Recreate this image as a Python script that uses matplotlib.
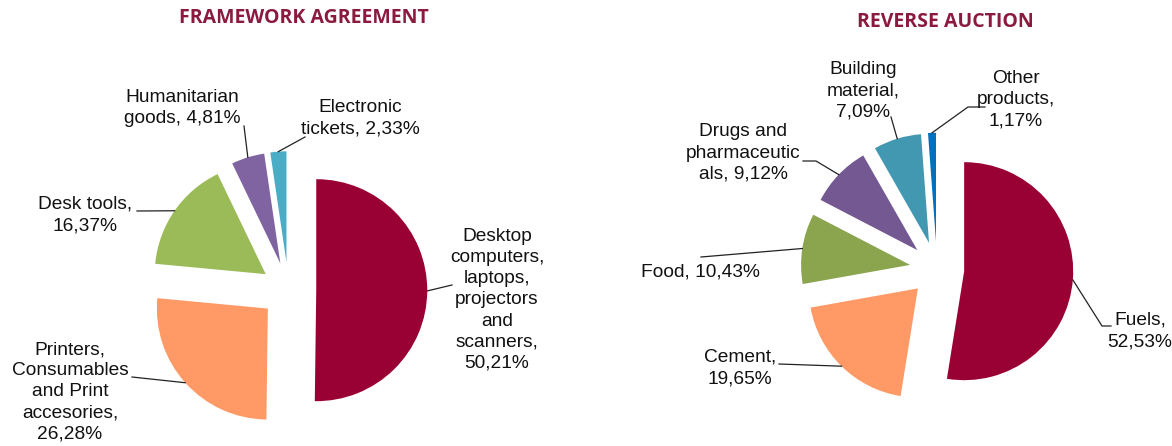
import numpy as np
import matplotlib
matplotlib.use("Agg")
import matplotlib.pyplot as plt

# --- data ---
fa_labels = ["Desktop\ncomputers,\nlaptops,\nprojectors\nand\nscanners,",
             "Printers,\nConsumables\nand Print\naccesories,",
             "Desk tools,", "Humanitarian\ngoods,", "Electronic\ntickets,"]
fa_values = [50.21, 26.28, 16.37, 4.81, 2.33]
fa_colors = ["#990033", "#FF9966", "#9BBB59", "#8064A2", "#4BACC6"]

ra_labels = ["Fuels,", "Cement,", "Food,", "Drugs and\npharmaceutic\nals,",
             "Building\nmaterial,", "Other\nproducts,"]
ra_values = [52.53, 19.65, 10.43, 9.12, 7.09, 1.17]
ra_colors = ["#990033", "#FF9966", "#8BA54F", "#735891", "#4298B0", "#0070C0"]

W, H = 1172, 446
fig = plt.figure(figsize=(W / 100, H / 100), dpi=100)
ax = fig.add_axes([0, 0, 1, 1])

def Y(y):  # pixel row -> data y
    return H - y

def fmt(v):
    return f"{v:.2f}".replace(".", ",") + "%"

def draw_pie(values, colors, center, radius, explode_frac):
    # explode in pie() is in data units, so scale it by the radius
    wedges, _ = ax.pie(values, colors=colors, startangle=90, counterclock=False,
                       center=(center[0], Y(center[1])), radius=radius,
                       explode=[explode_frac * radius] * len(values),
                       wedgeprops=dict(linewidth=0), frame=True)
    return wedges

def arc_point(w):
    a = np.deg2rad((w.theta1 + w.theta2) / 2)
    return w.center[0] + w.r * np.cos(a), w.center[1] + w.r * np.sin(a)

lab_font = dict(family=["Liberation Sans", "DejaVu Sans"], fontsize=13.8,
                ha="center", va="center", linespacing=1.32, color="#111111")

def label(w, text, tx, ty, line_pts):
    ax.text(tx, Y(ty), text, **lab_font)
    px, py = arc_point(w)
    xs = [p[0] for p in line_pts] + [px]
    ys = [Y(p[1]) for p in line_pts] + [py]
    ax.plot(xs, ys, color="#222222", lw=0.9)

# --- left pie: framework agreement ---
wl = draw_pie(fa_values, fa_colors, (288.5, 290), 111, 0.25)
fa_sep = ["\n", "\n", "\n", " ", " "]
pos_fa = [(497, 300, [(452, 285)]),
          (70, 392, [(132, 377)]),
          (85, 215, [(137, 211)]),
          (182, 108, [(244, 126)]),
          (360, 118, [(305, 137)])]
for w, t, s, v, (tx, ty, pts) in zip(wl, fa_labels, fa_sep, fa_values, pos_fa):
    label(w, t + s + fmt(v), tx, ty, pts)

# --- right pie: reverse auction ---
wr = draw_pie(ra_values, ra_colors, (937, 269), 109, 0.25)
ra_sep = ["\n", "\n", " ", " ", "\n", "\n"]
pos_ra = [(1140, 331, [(1111, 326), (1102, 326)]),
          (740, 368, [(779, 364)]),
          (700, 272, [(701, 257)]),
          (743, 153, [(803, 161), (816, 161)]),
          (863, 91, [(891, 117)]),
          (1016, 100, [(985, 107), (968, 107)])]
for w, t, s, v, (tx, ty, pts) in zip(wr, ra_labels, ra_sep, ra_values, pos_ra):
    label(w, t + s + fmt(v), tx, ty, pts)

ax.set_xlim(0, W)
ax.set_ylim(0, H)
ax.set_aspect("equal")
ax.axis("off")

title_font = dict(family=["Open Sans", "DejaVu Sans"], fontweight="bold",
                  fontsize=14, color="#8B1A3F", ha="center", va="center")
ax.text(304, Y(18), "FRAMEWORK AGREEMENT", **title_font)
ax.text(945, Y(22), "REVERSE AUCTION", **title_font)

fig.savefig("out.png", dpi=100, facecolor="white")
